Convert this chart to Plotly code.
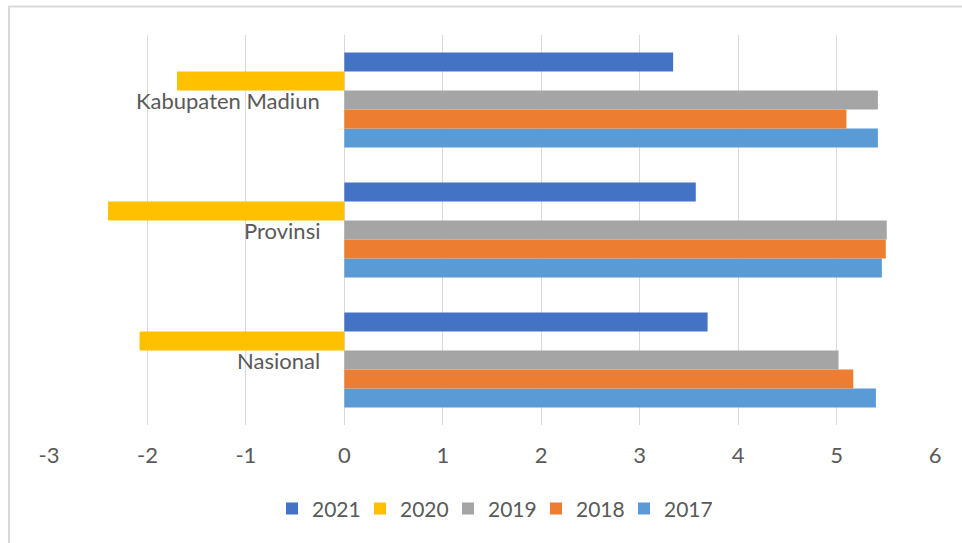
import plotly.graph_objects as go

categories = ["Nasional", "Provinsi", "Kabupaten Madiun"]
years = ["2017", "2018", "2019", "2020", "2021"]
values = {
    "2017": [5.40, 5.46, 5.42],
    "2018": [5.17, 5.50, 5.10],
    "2019": [5.02, 5.51, 5.42],
    "2020": [-2.08, -2.40, -1.70],
    "2021": [3.69, 3.57, 3.34],
}
colors = {
    "2017": "#5B9BD5",
    "2018": "#ED7D31",
    "2019": "#A5A5A5",
    "2020": "#FFC000",
    "2021": "#4472C4",
}
x_ticks = [-3, -2, -1, 0, 1, 2, 3, 4, 5, 6]
x_tick_labels = ["-3", "-2", "-1", "0", "1", "2", "3", "4", "5", "6"]

FONT = "Lato"
TXT = "#595959"

fig = go.Figure()
for yr in years:
    fig.add_trace(go.Bar(
        y=categories, x=values[yr], name=yr, orientation="h",
        marker=dict(color=colors[yr], line=dict(width=0)),
    ))

for c in categories:
    fig.add_annotation(x=0, y=c, xref="x", yref="y", text=c, showarrow=False,
                       xanchor="right", yanchor="middle", xshift=-22,
                       font=dict(family=FONT, size=22, color=TXT))

fig.update_layout(
    width=962, height=543,
    margin=dict(l=49, r=27, t=35, b=118),
    paper_bgcolor="white", plot_bgcolor="white",
    barmode="group", bargap=0.27, bargroupgap=0,
    font=dict(family=FONT, size=22, color=TXT),
    showlegend=True,
    legend=dict(orientation="h", x=0.5, xanchor="center", y=-0.215, yanchor="middle",
                traceorder="reversed", font=dict(family=FONT, size=21, color=TXT),
                entrywidth=43, entrywidthmode="pixels", itemclick=False),
    xaxis=dict(range=[-3, 6], tickvals=x_ticks, ticktext=x_tick_labels,
               showgrid=True, gridcolor="#D9D9D9", gridwidth=1.3,
               zeroline=True, zerolinecolor="#D9D9D9", zerolinewidth=1.3, showline=False,
               ticks="", ticklabelstandoff=15,
               tickfont=dict(family=FONT, size=22, color=TXT)),
    yaxis=dict(categoryorder="array", categoryarray=categories, showticklabels=False,
               showgrid=False, zeroline=False, showline=False, ticks=""),
    shapes=[
        dict(type="rect", xref="paper", yref="paper", x0=-0.0451, x1=1.2, y0=-0.5, y1=1.073,
             line=dict(color="#D9D9D9", width=2), fillcolor="rgba(0,0,0,0)", layer="below"),
    ],
)

fig.write_html("out.html", config={"displayModeBar": False},
               post_script="document.body.style.margin='0';")
